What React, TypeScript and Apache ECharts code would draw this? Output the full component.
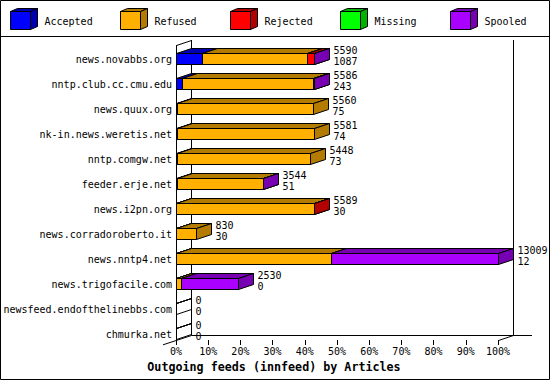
import React, { useEffect, useRef } from 'react';
import * as echarts from 'echarts';

// Feed peers, top to bottom
const categories = [
  'news.novabbs.org',
  'nntp.club.cc.cmu.edu',
  'news.quux.org',
  'nk-in.news.weretis.net',
  'nntp.comgw.net',
  'feeder.erje.net',
  'news.i2pn.org',
  'news.corradoroberto.it',
  'news.nntp4.net',
  'news.trigofacile.com',
  'newsfeed.endofthelinebbs.com',
  'chmurka.net',
];

const seriesNames = ['Accepted', 'Refused', 'Rejected', 'Missing', 'Spooled'];

// Article counts per peer and outcome
const accepted = [1087, 243, 75, 74, 73, 51, 30, 30, 12, 0, 0, 0];
const refused = [4223, 5303, 5485, 5507, 5375, 3483, 5549, 800, 6290, 230, 0, 0];
const rejected = [270, 30, 0, 0, 0, 0, 10, 0, 0, 0, 0, 0];
const missing = [0, 0, 0, 0, 0, 0, 0, 0, 0, 0, 0, 0];
const spooled = [10, 10, 0, 0, 0, 10, 0, 0, 6707, 2300, 0, 0];

const percentTicks = [0, 10, 20, 30, 40, 50, 60, 70, 80, 90, 100];

const frontColors = ['#0000ff', '#ffb000', '#ff0000', '#00ff00', '#aa00ff'];
const darkColors = ['#0000b3', '#b37b00', '#b30000', '#00b300', '#7700b3'];

const FONT = '"DejaVu Sans Mono", monospace';
const DX = 15; // 3D depth, horizontal
const DY = 5; // 3D depth, vertical
const BAR_H = 11;

const stacks = [accepted, refused, rejected, missing, spooled];
const totals = categories.map((_, i) => stacks.reduce((s, arr) => s + arr[i], 0));
const maxTotal = Math.max(...totals);
const toPct = (v: number) => (v / maxTotal) * 100;

const crisp = (v: number) => Math.floor(v) + 0.5;

function segmentRenderer(front: string, dark: string, alwaysDraw: boolean) {
  return (_params: any, api: any) => {
    const start = api.value(0);
    const end = api.value(1);
    const cat = api.value(2);
    const empty = end - start <= 0;
    if (!alwaysDraw && empty) return null;
    const a = api.coord([start, cat]);
    const b = api.coord([end, cat]);
    const xa = crisp(a[0]);
    const xb = crisp(b[0]);
    const yt = crisp(a[1] - BAR_H / 2);
    const yb = yt + BAR_H;
    const stroke = { stroke: '#000', lineWidth: 1, lineJoin: 'miter' };
    // an empty bar is only outlined
    const fFront = empty ? 'none' : front;
    const fDark = empty ? 'none' : dark;
    return {
      type: 'group',
      children: [
        {
          type: 'polygon',
          shape: { points: [[xa, yt], [xb, yt], [xb, yb], [xa, yb]] },
          style: { fill: fFront, ...stroke },
        },
        {
          type: 'polygon',
          shape: { points: [[xa, yt], [xa + DX, yt - DY], [xb + DX, yt - DY], [xb, yt]] },
          style: { fill: fDark, ...stroke },
        },
        {
          type: 'polygon',
          shape: { points: [[xb, yt], [xb + DX, yt - DY], [xb + DX, yb - DY], [xb, yb]] },
          style: { fill: fDark, ...stroke },
        },
      ],
    };
  };
}

function buildSegmentSeries() {
  const cum = categories.map(() => 0);
  return stacks.map((arr, s) => {
    const data = arr.map((v, i) => {
      const start = toPct(cum[i]);
      cum[i] += v;
      return [start, toPct(cum[i]), i];
    });
    return {
      type: 'custom',
      name: seriesNames[s],
      z: 10 + s,
      renderItem: segmentRenderer(frontColors[s], darkColors[s], s === 0),
      encode: { x: [0, 1], y: 2 },
      data,
    };
  });
}

const labelSeries = {
  type: 'custom',
  name: 'labels',
  z: 30,
  encode: { x: 0, y: 1 },
  data: totals.map((t, i) => [toPct(t), i, t, accepted[i]]),
  renderItem: (_params: any, api: any) => {
    const p = api.coord([api.value(0), api.value(1)]);
    const x = crisp(p[0]) + DX + 4;
    const textStyle = { fill: '#000', fontFamily: FONT, fontSize: 10, align: 'left', verticalAlign: 'middle' };
    return {
      type: 'group',
      children: [
        { type: 'text', style: { ...textStyle, x, y: p[1] - 8.5, text: String(api.value(2)) } },
        { type: 'text', style: { ...textStyle, x, y: p[1] + 2.5, text: String(api.value(3)) } },
      ],
    };
  },
};

function line(x1: number, y1: number, x2: number, y2: number) {
  return { type: 'line', z: 1, shape: { x1, y1, x2, y2 }, style: { stroke: '#000', lineWidth: 1 } };
}

function legendGraphics() {
  const items: any[] = [];
  seriesNames.forEach((name, k) => {
    const x0 = 10.5 + 110 * k;
    const y0 = 11.5;
    const w = 20;
    const h = 18;
    const dx = 7;
    const dy = 3;
    const st = { stroke: '#000', lineWidth: 1 };
    items.push({
      type: 'polygon', z: 1,
      shape: { points: [[x0, y0], [x0 + w, y0], [x0 + w, y0 + h], [x0, y0 + h]] },
      style: { fill: frontColors[k], ...st },
    });
    items.push({
      type: 'polygon', z: 1,
      shape: { points: [[x0, y0], [x0 + dx, y0 - dy], [x0 + w + dx, y0 - dy], [x0 + w, y0]] },
      style: { fill: darkColors[k], ...st },
    });
    items.push({
      type: 'polygon', z: 1,
      shape: { points: [[x0 + w, y0], [x0 + w + dx, y0 - dy], [x0 + w + dx, y0 + h - dy], [x0 + w, y0 + h]] },
      style: { fill: darkColors[k], ...st },
    });
    items.push({
      type: 'text', z: 1,
      style: { x: x0 + 34, y: 21, text: name, fill: '#000', fontFamily: FONT, fontSize: 10, verticalAlign: 'middle' },
    });
  });
  return items;
}

export default function App() {
  const ref = useRef<HTMLDivElement>(null);

  useEffect(() => {
    if (!ref.current) return;
    const chart = echarts.init(ref.current, undefined, { renderer: 'svg' });
    chart.setOption({
      animation: false,
      backgroundColor: '#ffffff',
      grid: { left: 176, right: 52, top: 46.5, bottom: 33.5 },
      xAxis: {
        type: 'value',
        min: 0,
        max: 100,
        interval: 10,
        offset: -6.5,
        axisLine: { show: false },
        axisTick: { show: true, length: 5, lineStyle: { color: '#000', width: 1 } },
        splitLine: { show: false },
        axisLabel: {
          margin: 6,
          color: '#000',
          fontFamily: FONT,
          fontSize: 10,
          formatter: (v: number) => (percentTicks.includes(Math.round(v)) ? `${Math.round(v)}%` : ''),
        },
      },
      yAxis: {
        type: 'category',
        inverse: true,
        data: categories,
        axisLine: { show: false },
        axisTick: { show: false },
        splitLine: { show: false },
        axisLabel: { margin: 4, color: '#000', fontFamily: FONT, fontSize: 10 },
      },
      series: [...buildSegmentSeries(), labelSeries],
      graphic: [
        {
          type: 'rect', z: 1,
          shape: { x: 0.5, y: 0.5, width: 549, height: 379 },
          style: { fill: 'none', stroke: '#000', lineWidth: 1 },
        },
        line(0, 36.5, 550, 36.5),
        line(191.5, 40, 191.5, 335.5),
        line(513.5, 40, 513.5, 335.5),
        line(191.5, 335.5, 532, 335.5),
        line(176.5, 45, 176.5, 340.5),
        line(176.5, 45.5, 191.5, 40.5),
        line(163, 344.8, 191.5, 335.5),
        line(498.5, 340.5, 513.5, 335.5),
        ...legendGraphics(),
        {
          type: 'text', z: 1,
          style: {
            x: 274, y: 367, text: 'Outgoing feeds (innfeed) by Articles',
            fill: '#000', fontFamily: FONT, fontSize: 11.7, fontWeight: 'bold',
            align: 'center', verticalAlign: 'middle',
          },
        },
      ],
    });
    return () => chart.dispose();
  }, []);

  return (
    <div
      ref={ref}
      style={{ position: 'fixed', left: 0, top: 0, width: 550, height: 380, background: '#fff' }}
    />
  );
}
